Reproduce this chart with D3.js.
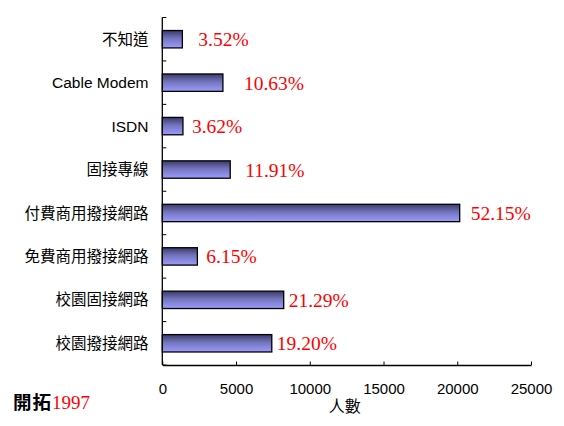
<!DOCTYPE html>
<html><head><meta charset="utf-8">
<script src="https://cdn.jsdelivr.net/npm/d3@7"></script>
<style>body{margin:0;background:#fff}svg{display:block}</style>
</head><body>
<svg id="c" width="564" height="426"></svg>
<script>
const categories = ["不知道","Cable Modem","ISDN","固接專線","付費商用撥接網路","免費商用撥接網路","校園固接網路","校園撥接網路"];
const values = [1361, 4110, 1400, 4605, 20165, 2378, 8232, 7424];
const percentLabels = ["3.52%","10.63%","3.62%","11.91%","52.15%","6.15%","21.29%","19.20%"];
const xTicks = [0, 5000, 10000, 15000, 20000, 25000];
const xTitle = "人數";
const footerA = "開拓";
const footerB = "1997";

const labelNudge = [16, 21, 9, 15, 11, 9, 5, 5];

const svg = d3.select("#c");
const L = 162.3, R = 531, T = 17.5, B = 365;
const x = d3.scaleLinear().domain([0, 25000]).range([L, R]);
const y = d3.scaleBand().domain(categories).range([T, B]).paddingInner(0.6).paddingOuter(0.3);

const defs = svg.append("defs");
const g = defs.append("linearGradient").attr("id","bg").attr("x1",0).attr("y1",0).attr("x2",0).attr("y2",1);
g.append("stop").attr("offset","0%").attr("stop-color","#3a3a6a");
g.append("stop").attr("offset","45%").attr("stop-color","#7474bd");
g.append("stop").attr("offset","100%").attr("stop-color","#9c9cff");

const sans = "Arial, 'Liberation Sans', 'Noto Sans CJK TC', sans-serif";

svg.selectAll("rect.bar").data(categories).enter().append("rect")
  .attr("class","bar")
  .attr("x", x(0))
  .attr("y", d => y(d))
  .attr("width", (d,i) => x(values[i]) - x(0))
  .attr("height", y.bandwidth())
  .attr("fill","url(#bg)")
  .attr("stroke","#000").attr("stroke-width",1.3);

svg.selectAll("text.pct").data(categories).enter().append("text")
  .attr("class","pct")
  .attr("x", (d,i) => x(values[i]) + labelNudge[i])
  .attr("y", d => y(d) + y.bandwidth()/2)
  .attr("dy","0.36em")
  .attr("fill","#ff0000")
  .attr("font-family","'Times New Roman','Liberation Serif',serif")
  .attr("font-size","19.5px")
  .text((d,i) => percentLabels[i]);

const yAxis = svg.append("g");
yAxis.append("line").attr("x1",L).attr("x2",L).attr("y1",T).attr("y2",B).attr("stroke","#000").attr("stroke-width",1.3);
const bounds = d3.range(categories.length + 1).map(i => T + i*(B-T)/categories.length);
yAxis.selectAll("line.t").data(bounds).enter().append("line")
  .attr("x1",L).attr("x2",L+4).attr("y1",d=>d).attr("y2",d=>d).attr("stroke","#000");
yAxis.selectAll("text").data(categories).enter().append("text")
  .attr("x", 148.5)
  .attr("y", d => y(d) + y.bandwidth()/2)
  .attr("dy","0.36em")
  .attr("text-anchor","end")
  .attr("font-family", sans)
  .attr("font-size","15.5px")
  .attr("fill","#000")
  .text(d => d);

const xa = svg.append("g").attr("transform",`translate(0,${B})`)
  .call(d3.axisBottom(x).tickValues(xTicks).tickSizeInner(-3.5).tickSizeOuter(0).tickPadding(18).tickFormat(d3.format("d")));
xa.select(".domain").attr("stroke","#000").attr("stroke-width",1.3);
xa.selectAll(".tick line").attr("stroke","#000");
xa.selectAll(".tick text").attr("font-family",sans).attr("font-size","15px").attr("fill","#000");

svg.append("text").attr("x", (x(10000)+x(15000))/2 - 2).attr("y", 412)
  .attr("text-anchor","middle").attr("font-family","'Noto Sans CJK TC', sans-serif").attr("font-size","16px")
  .attr("fill","#000").text(xTitle);

const f = svg.append("text").attr("x",13).attr("y",409);
f.append("tspan").attr("font-family","'Noto Sans CJK TC', serif").attr("font-weight","bold").attr("font-size","18.5px").attr("letter-spacing","1px").attr("fill","#000").text(footerA);
f.append("tspan").attr("font-family","'Times New Roman','Liberation Serif',serif").attr("font-size","19px").attr("fill","#ff0000").text(footerB);
</script>
</body></html>
